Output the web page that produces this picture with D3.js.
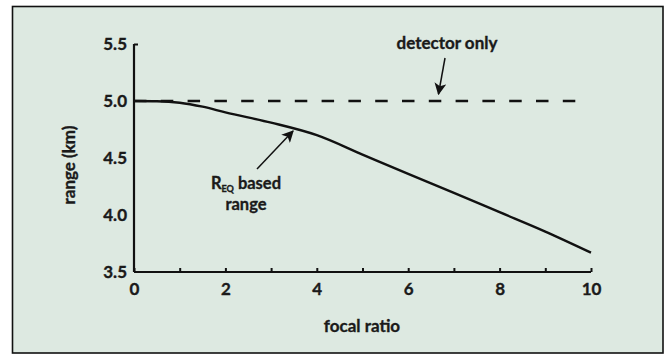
<!DOCTYPE html>
<html><head><meta charset="utf-8">
<script src="https://cdn.jsdelivr.net/npm/d3@7"></script>
<style>
html,body{margin:0;padding:0;background:#fff;}
svg{display:block;}
text{font-family:Lato,"Open Sans",sans-serif;font-weight:700;fill:#1a1a1a;stroke:#1a1a1a;stroke-width:0.35px;}
</style></head>
<body>
<script>
const focalRatio = [0, 0.5, 1, 1.5, 2, 3, 4, 5, 6, 7, 8, 9, 10];
const reqRange   = [5.0, 4.998, 4.985, 4.95, 4.90, 4.81, 4.70, 4.53, 4.36, 4.195, 4.025, 3.855, 3.67];
const detectorX  = [0, 9.8];
const detectorY  = [5.0, 5.0];
const xTicks = [0,1,2,3,4,5,6,7,8,9,10];
const xLabels = ["0","","2","","4","","6","","8","","10"];
const yTicks = [3.5, 4.0, 4.5, 5.0, 5.5];
const yLabels = ["3.5","4.0","4.5","5.0","5.5"];

const W = 666, H = 358;
const svg = d3.select("body").append("svg").attr("width", W).attr("height", H);

svg.append("rect").attr("x", 12.5).attr("y", 6.5).attr("width", 650.5).attr("height", 346.5)
  .attr("fill", "#dde9e1").attr("stroke", "#111").attr("stroke-width", 1.6);

const x = d3.scaleLinear().domain([0, 10]).range([134, 591]);
const y = d3.scaleLinear().domain([3.5, 5.5]).range([272, 44]);

// x axis
const xAxis = svg.append("g").attr("transform", `translate(0,${y(3.5)})`)
  .call(d3.axisBottom(x).tickValues(xTicks).tickSize(-4).tickPadding(12)
    .tickFormat((d, i) => xLabels[i]));
xAxis.select(".domain").attr("stroke", "#111").attr("stroke-width", 2.2).attr("d", `M${x(0)},0H${x(10)}`);
xAxis.selectAll(".tick line").attr("stroke", "#111").attr("stroke-width", 2);
xAxis.selectAll(".tick text").style("font-size", "17px").attr("dy", "0.71em").attr("y", 11);

// y axis
const yAxis = svg.append("g").attr("transform", `translate(${x(0)},0)`)
  .call(d3.axisLeft(y).tickValues(yTicks).tickSize(0).tickPadding(7)
    .tickFormat((d, i) => yLabels[i]));
yAxis.select(".domain").attr("stroke", "#111").attr("stroke-width", 2.2).attr("d", `M0,${y(5.5)}V${y(3.5)}`);
yAxis.selectAll(".tick text").style("font-size", "17px");
yAxis.selectAll(".tick").filter(d => d === 5.5).append("line")
  .attr("x1", 0).attr("x2", 4).attr("stroke", "#111").attr("stroke-width", 2);

// axis titles
svg.append("text").attr("x", 362).attr("y", 332).attr("text-anchor", "middle")
  .style("font-size", "17px").text("focal ratio");
svg.append("text").attr("transform", `translate(75,165) rotate(-90)`).attr("text-anchor", "middle")
  .style("font-size", "17px").text("range (km)");

// detector only dashed line
svg.append("path")
  .datum(detectorX.map((d, i) => [d, detectorY[i]]))
  .attr("d", d3.line().x(d => x(d[0])).y(d => y(d[1])))
  .attr("fill", "none").attr("stroke", "#111").attr("stroke-width", 2.4)
  .attr("stroke-dasharray", "12.5,14.3");

// R_EQ curve
svg.append("path")
  .datum(focalRatio.map((d, i) => [d, reqRange[i]]))
  .attr("d", d3.line().x(d => x(d[0])).y(d => y(d[1])).curve(d3.curveMonotoneX))
  .attr("fill", "none").attr("stroke", "#111").attr("stroke-width", 2.4);

// arrows
const defs = svg.append("defs");
defs.append("marker").attr("id", "ah").attr("viewBox", "0 0 10 10").attr("refX", 9).attr("refY", 5)
  .attr("markerWidth", 12).attr("markerHeight", 12).attr("markerUnits", "userSpaceOnUse")
  .attr("orient", "auto")
  .append("path").attr("d", "M0,0L10,5L0,10L2.5,5Z").attr("fill", "#111");

svg.append("line").attr("x1", 445).attr("y1", 58).attr("x2", 438.5).attr("y2", 94)
  .attr("stroke", "#111").attr("stroke-width", 1.5).attr("marker-end", "url(#ah)");
svg.append("line").attr("x1", 257).attr("y1", 169).attr("x2", 293).attr("y2", 131)
  .attr("stroke", "#111").attr("stroke-width", 1.5).attr("marker-end", "url(#ah)");

// annotations
svg.append("text").attr("x", 447).attr("y", 49).attr("text-anchor", "middle")
  .style("font-size", "17px").text("detector only");

const t1 = svg.append("text").attr("x", 246).attr("y", 188.5).attr("text-anchor", "middle").style("font-size", "16.5px");
t1.append("tspan").text("R");
t1.append("tspan").attr("dy", 3).style("font-size", "9px").text("EQ");
t1.append("tspan").attr("dy", -3).text(" based");
svg.append("text").attr("x", 246).attr("y", 210).attr("text-anchor", "middle")
  .style("font-size", "16.5px").text("range");
</script>
</body></html>
